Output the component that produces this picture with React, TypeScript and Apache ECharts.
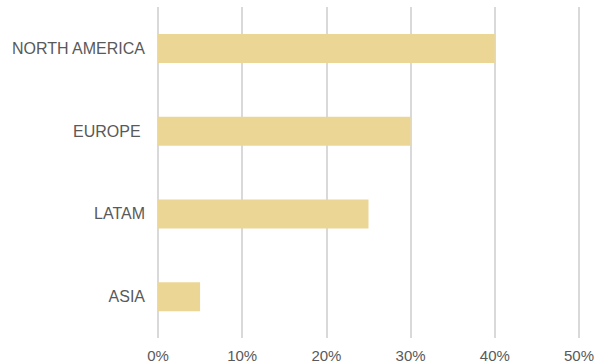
import React, { useEffect, useRef } from "react";
import * as echarts from "echarts";

const categories = ["NORTH AMERICA", "EUROPE ", "LATAM", "ASIA"];
const values = [40, 30, 25, 5];
const xTicks = [0, 10, 20, 30, 40, 50];

export default function App() {
  const ref = useRef<HTMLDivElement>(null);
  useEffect(() => {
    if (!ref.current) return;
    const chart = echarts.init(ref.current, null, { renderer: "svg" });
    chart.setOption({
      animation: false,
      grid: { left: 158, right: 27, top: 7, bottom: 25, containLabel: false },
      xAxis: {
        type: "value",
        min: xTicks[0],
        max: xTicks[xTicks.length - 1],
        interval: 10,
        axisLine: { show: false },
        axisTick: { show: false },
        splitLine: { show: true, lineStyle: { color: "#d9d9d9", width: 2 } },
        axisLabel: {
          formatter: (v: number) => `${v}%`,
          color: "#595959",
          fontSize: 15,
          fontFamily: "Liberation Sans, Arial, sans-serif",
          margin: 10,
        },
      },
      yAxis: {
        type: "category",
        data: categories,
        inverse: true,
        axisLine: { show: false },
        axisTick: { show: false },
        splitLine: { show: false },
        axisLabel: {
          color: "#595959",
          fontSize: 16,
          fontFamily: "Liberation Sans, Arial, sans-serif",
          margin: 13,
        },
      },
      series: [
        {
          type: "bar",
          data: values,
          barWidth: 29,
          itemStyle: { color: "#ECD696" },
        },
      ],
    });
    return () => chart.dispose();
  }, []);
  return <div ref={ref} style={{ width: 606, height: 363, position: "absolute", left: 0, top: 0 }} />;
}
